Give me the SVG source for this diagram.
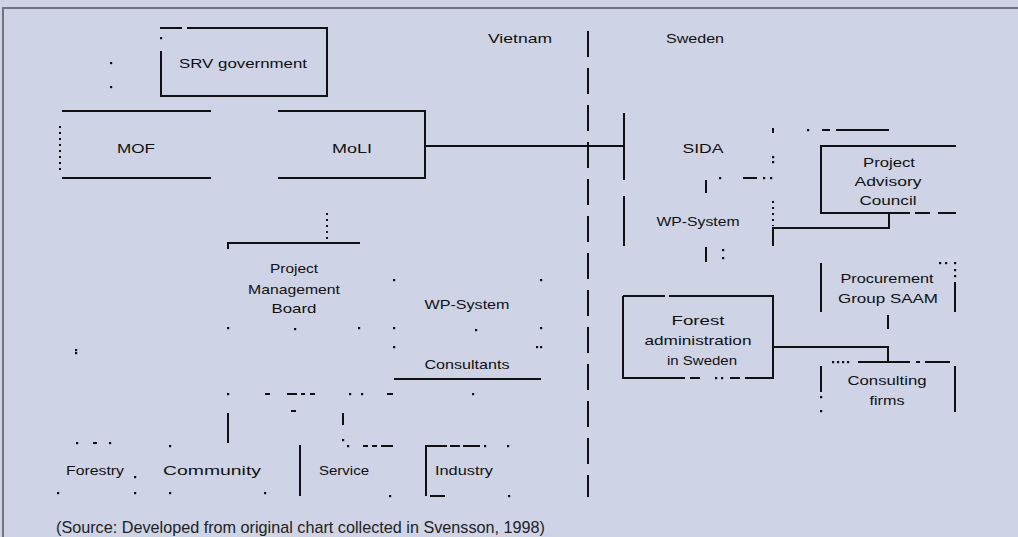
<svg xmlns="http://www.w3.org/2000/svg" xmlns:xlink="http://www.w3.org/1999/xlink" width="1018" height="537" viewBox="0 0 1018 537">
<style>
.ln{fill:none;stroke:#111;stroke-width:2}
.dsh{fill:none;stroke:#111;stroke-width:2;stroke-dasharray:2 4}
.t{font-family:"Liberation Sans",Arial,sans-serif;font-size:13px;fill:#111;text-anchor:middle}
.src{font-family:"Liberation Sans",Arial,sans-serif;font-size:17px;fill:#222}
</style>
<defs><rect id="d" x="-1" y="-1" width="2.2" height="2.2" fill="#111"/></defs>
<rect width="1018" height="537" fill="#ced4e6"/>
<path d="M3 537 V8 H1018" fill="none" stroke="#70747f" stroke-width="2"/>

<g id="labels">
<text class="t" x="520" y="43" textLength="64" lengthAdjust="spacingAndGlyphs">Vietnam</text>
<text class="t" x="695" y="43" textLength="58" lengthAdjust="spacingAndGlyphs">Sweden</text>
</g>

<g id="divider">
<path class="ln" d="M588 31 V497" stroke-width="1.6" style="stroke-dasharray:26 11"/>
</g>

<g id="connectors">
<path class="ln" d="M425 146 H624"/>
<path class="dsh" d="M327 213 V243"/>
<path class="ln" d="M773 246 V228 H889 V213"/>
<path class="ln" d="M773 347 H888 V362"/>
<path class="ln" d="M888 315 V329"/>
<path class="ln" d="M706 180 V193"/>
<path class="ln" d="M706 247 V262"/>
<path class="ln" d="M228 413 V443"/>
<path class="ln" d="M343 413 V425"/>
<path class="ln" d="M265 394 H270 M287 394 H297 M301 394 H305 M310 394 H315 M387 394 H393 M291 411 H296"/>
<path class="ln" d="M363 446 H368 M372 446 H377 M381 446 H393 M743 178 H757"/>
<use xlink:href="#d" x="228" y="394"/><use xlink:href="#d" x="350" y="394"/><use xlink:href="#d" x="362" y="394"/><use xlink:href="#d" x="473" y="394"/>
<use xlink:href="#d" x="343" y="440"/><use xlink:href="#d" x="348" y="446"/>
<use xlink:href="#d" x="764" y="178"/><use xlink:href="#d" x="771" y="178"/><use xlink:href="#d" x="720" y="178"/>
<use xlink:href="#d" x="723" y="250"/><use xlink:href="#d" x="723" y="258"/>
<use xlink:href="#d" x="111" y="63"/><use xlink:href="#d" x="111" y="87"/>
<use xlink:href="#d" x="76" y="350"/><use xlink:href="#d" x="76" y="353"/>
</g>

<g id="srv-government">
<path class="ln" d="M160 28 H182 M187 28 H327 V96 H161 V51"/>
<use xlink:href="#d" x="161" y="38"/>
<text class="t" x="243" y="68" textLength="128" lengthAdjust="spacingAndGlyphs">SRV government</text>
</g>

<g id="mof">
<path class="ln" d="M62 111 H211 M62 178 H211"/>
<path class="dsh" d="M60 126 V170"/>
<text class="t" x="136" y="153" textLength="38" lengthAdjust="spacingAndGlyphs">MOF</text>
</g>

<g id="moli">
<path class="ln" d="M278 111 H425 V178 H278"/>
<text class="t" x="352" y="153" textLength="40" lengthAdjust="spacingAndGlyphs">MoLI</text>
</g>

<g id="sida">
<path class="ln" d="M624 113 V180"/>
<text class="t" x="703" y="153" textLength="41" lengthAdjust="spacingAndGlyphs">SIDA</text>
<path class="ln" d="M773 128 V133"/>
<use xlink:href="#d" x="808" y="130"/>
<path class="ln" d="M822 130 H830 M836 130 H889"/>
<use xlink:href="#d" x="773" y="157"/><use xlink:href="#d" x="773" y="162"/>
</g>

<g id="project-advisory-council">
<path class="ln" d="M956 146 H821 V213 H910 M915 213 H930 M938 213 H956"/>
<text class="t" x="889" y="167" textLength="52" lengthAdjust="spacingAndGlyphs">Project</text>
<text class="t" x="888" y="186" textLength="67" lengthAdjust="spacingAndGlyphs">Advisory</text>
<text class="t" x="888" y="205" textLength="57" lengthAdjust="spacingAndGlyphs">Council</text>
</g>

<g id="wp-system-sweden">
<path class="ln" d="M624 196 V246"/>
<path class="dsh" d="M773 201 V226"/>
<text class="t" x="698" y="226" textLength="83" lengthAdjust="spacingAndGlyphs">WP-System</text>
</g>

<g id="forest-administration">
<path class="ln" d="M623 296 H665 M669 296 H773 V378 H745 M740 378 H730 M700 378 H690 M685 378 H623 V296"/>
<use xlink:href="#d" x="716" y="378"/><use xlink:href="#d" x="722" y="378"/>
<text class="t" x="698" y="325" textLength="53" lengthAdjust="spacingAndGlyphs">Forest</text>
<text class="t" x="698" y="345" textLength="107" lengthAdjust="spacingAndGlyphs">administration</text>
<text class="t" x="702" y="365" textLength="70" lengthAdjust="spacingAndGlyphs">in Sweden</text>
</g>

<g id="procurement-group">
<path class="ln" d="M821 263 V312 M955 282 V312"/>
<use xlink:href="#d" x="940" y="263"/><use xlink:href="#d" x="946" y="263"/><use xlink:href="#d" x="955" y="263"/><use xlink:href="#d" x="955" y="270"/><use xlink:href="#d" x="955" y="276"/>
<text class="t" x="887" y="283" textLength="93" lengthAdjust="spacingAndGlyphs">Procurement</text>
<text class="t" x="888" y="303" textLength="100" lengthAdjust="spacingAndGlyphs">Group SAAM</text>
</g>

<g id="consulting-firms">
<path class="ln" d="M858 362 H910 M916 362 H920 M925 362 H950 M821 366 V392 M955 366 V412"/>
<use xlink:href="#d" x="833" y="362"/><use xlink:href="#d" x="838" y="362"/><use xlink:href="#d" x="843" y="362"/><use xlink:href="#d" x="848" y="362"/>
<use xlink:href="#d" x="821" y="397"/><use xlink:href="#d" x="821" y="411"/>
<text class="t" x="887" y="385" textLength="79" lengthAdjust="spacingAndGlyphs">Consulting</text>
<text class="t" x="887" y="405" textLength="35" lengthAdjust="spacingAndGlyphs">firms</text>
</g>

<g id="project-management-board">
<path class="ln" d="M228 249 V243 H360"/>
<use xlink:href="#d" x="228" y="328"/><use xlink:href="#d" x="295" y="329"/><use xlink:href="#d" x="359" y="328"/>
<text class="t" x="294" y="273" textLength="48" lengthAdjust="spacingAndGlyphs">Project</text>
<text class="t" x="294" y="294" textLength="92" lengthAdjust="spacingAndGlyphs">Management</text>
<text class="t" x="294" y="313" textLength="45" lengthAdjust="spacingAndGlyphs">Board</text>
</g>

<g id="wp-system-consultants">
<path class="ln" d="M394 379 H541"/>
<use xlink:href="#d" x="394" y="280"/><use xlink:href="#d" x="541" y="280"/>
<use xlink:href="#d" x="394" y="328"/><use xlink:href="#d" x="476" y="330"/><use xlink:href="#d" x="541" y="328"/>
<use xlink:href="#d" x="394" y="347"/><use xlink:href="#d" x="537" y="347"/><use xlink:href="#d" x="541" y="347"/>
<text class="t" x="467" y="309" textLength="85" lengthAdjust="spacingAndGlyphs">WP-System</text>
<text class="t" x="467" y="369" textLength="85" lengthAdjust="spacingAndGlyphs">Consultants</text>
</g>

<g id="forestry">
<use xlink:href="#d" x="77" y="443"/><path class="ln" d="M93 443 H97"/><use xlink:href="#d" x="110" y="443"/>
<use xlink:href="#d" x="135" y="477"/><use xlink:href="#d" x="58" y="493"/><use xlink:href="#d" x="135" y="493"/>
<text class="t" x="95" y="475" textLength="58" lengthAdjust="spacingAndGlyphs">Forestry</text>
</g>

<g id="community">
<use xlink:href="#d" x="170" y="446"/><use xlink:href="#d" x="170" y="493"/><use xlink:href="#d" x="265" y="493"/>
<text class="t" x="212" y="475" textLength="98" lengthAdjust="spacingAndGlyphs">Community</text>
</g>

<g id="service">
<path class="ln" d="M300 445 V496"/>
<use xlink:href="#d" x="390" y="496"/>
<text class="t" x="344" y="475" textLength="50" lengthAdjust="spacingAndGlyphs">Service</text>
</g>

<g id="industry">
<path class="ln" d="M426 496 V446 H447 M450 446 H460 M463 446 H480 M430 496 H445"/>
<use xlink:href="#d" x="485" y="446"/><use xlink:href="#d" x="508" y="446"/><use xlink:href="#d" x="509" y="496"/>
<text class="t" x="464" y="475" textLength="58" lengthAdjust="spacingAndGlyphs">Industry</text>
</g>

<text class="src" x="56" y="533" textLength="489" lengthAdjust="spacingAndGlyphs">(Source: Developed from original chart collected in Svensson, 1998)</text>
</svg>
